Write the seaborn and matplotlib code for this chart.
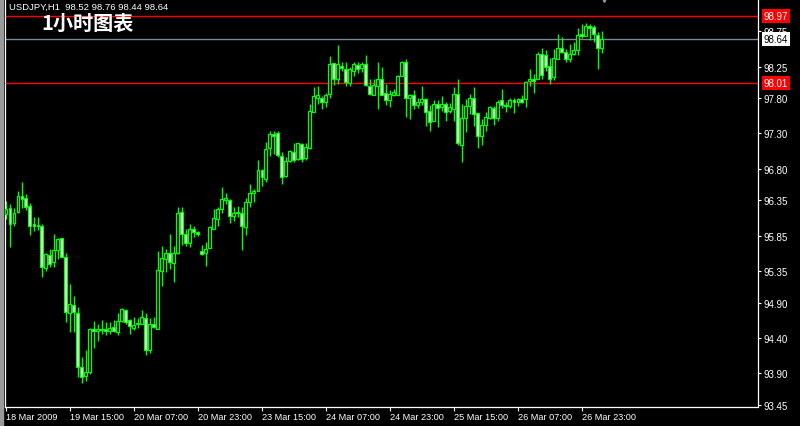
import numpy as np
import pandas as pd
import matplotlib
matplotlib.use("Agg")
import matplotlib.pyplot as plt
from matplotlib.patches import Rectangle
import seaborn as sns

# ---------------- data ----------------
header_text = "USDJPY,H1  98.52 98.76 98.44 98.64"
title_text = "1小时图表"

opens = [96.15, 96.24, 96.03, 96.18, 96.41, 96.39, 96.27, 96.01, 96.00, 95.99,
         95.39, 95.57, 95.47, 95.65, 95.81, 95.54, 94.75, 94.87, 94.75, 93.98,
         93.85, 93.91, 94.53, 94.50, 94.51, 94.53, 94.50, 94.55, 94.48, 94.64,
         94.79, 94.65, 94.54, 94.59, 94.59, 94.68, 94.22, 94.60, 94.53, 95.35,
         95.52, 95.61, 95.46, 95.60, 96.18, 95.87, 95.74, 95.95, 95.90, 95.63,
         95.61, 95.68, 95.95, 96.08, 96.23, 96.36, 96.36, 96.13, 96.17, 96.17,
         95.97, 96.33, 96.46, 96.49, 96.78, 96.66, 97.09, 97.29, 97.31, 96.98,
         96.69, 96.91, 97.03, 96.94, 97.15, 96.95, 97.09, 97.61, 97.81, 97.80,
         97.75, 97.86, 98.30, 98.08, 98.26, 98.22, 98.02, 98.19, 98.27, 98.23,
         98.29, 97.98, 97.85, 97.98, 98.08, 97.87, 97.78, 97.85, 97.84, 98.12,
         98.32, 97.81, 97.85, 97.70, 97.74, 97.79, 97.62, 97.47, 97.72, 97.67,
         97.72, 97.62, 97.65, 97.86, 97.14, 97.52, 97.69, 97.81, 97.59, 97.27,
         97.42, 97.52, 97.66, 97.52, 97.77, 97.70, 97.69, 97.78, 97.75, 97.79,
         97.79, 98.04, 98.08, 98.08, 98.43, 98.41, 98.26, 98.10, 98.36, 98.52,
         98.46, 98.35, 98.43, 98.49, 98.71, 98.69, 98.82, 98.81, 98.70, 98.52]
highs = [96.34, 96.30, 96.24, 96.49, 96.61, 96.44, 96.31, 96.11, 96.11, 96.01,
         95.61, 95.66, 95.87, 95.82, 95.82, 95.61, 95.16, 94.99, 94.83, 94.13,
         94.23, 94.54, 94.64, 94.60, 94.65, 94.62, 94.63, 94.65, 94.75, 94.82,
         94.81, 94.67, 94.69, 94.68, 94.79, 94.75, 94.68, 94.69, 95.63, 95.70,
         95.66, 95.87, 95.70, 96.25, 96.25, 95.94, 96.02, 95.98, 95.91, 95.72,
         95.76, 95.98, 96.23, 96.25, 96.54, 96.46, 96.37, 96.25, 96.27, 96.25,
         96.38, 96.58, 96.51, 96.93, 96.80, 97.18, 97.33, 97.33, 97.33, 97.03,
         96.96, 97.06, 97.17, 97.17, 97.17, 97.17, 97.72, 97.96, 97.98, 97.83,
         97.88, 98.40, 98.30, 98.56, 98.31, 98.32, 98.24, 98.31, 98.31, 98.31,
         98.41, 98.08, 98.08, 98.31, 98.25, 98.00, 97.91, 97.93, 98.13, 98.33,
         98.35, 97.86, 97.91, 97.80, 97.97, 97.80, 97.70, 97.77, 97.78, 97.83,
         97.75, 97.73, 97.96, 98.08, 97.72, 97.79, 97.86, 97.96, 97.59, 97.51,
         97.60, 97.69, 97.69, 97.77, 97.93, 97.75, 97.81, 97.81, 97.81, 97.85,
         98.04, 98.22, 98.14, 98.45, 98.52, 98.48, 98.37, 98.50, 98.71, 98.67,
         98.50, 98.57, 98.60, 98.79, 98.85, 98.87, 98.85, 98.84, 98.74, 98.76]
lows = [96.09, 95.69, 95.99, 96.17, 96.24, 96.22, 95.86, 95.92, 95.93, 95.26,
        95.35, 95.41, 95.41, 95.52, 95.54, 94.62, 94.48, 94.48, 93.84, 93.76,
        93.78, 93.89, 94.26, 94.35, 94.46, 94.44, 94.45, 94.48, 94.44, 94.63,
        94.59, 94.46, 94.51, 94.54, 94.59, 94.15, 94.18, 94.54, 94.52, 95.13,
        95.33, 95.38, 95.19, 95.59, 95.71, 95.70, 95.69, 95.83, 95.85, 95.57,
        95.42, 95.67, 95.95, 95.98, 96.17, 96.30, 96.03, 96.06, 96.11, 95.64,
        95.86, 96.25, 96.33, 96.49, 96.55, 96.61, 96.98, 97.01, 96.96, 96.58,
        96.68, 96.89, 96.90, 96.93, 96.90, 96.93, 97.08, 97.60, 97.72, 97.64,
        97.67, 97.80, 97.99, 98.00, 98.18, 97.98, 97.98, 98.11, 98.16, 98.17,
        97.98, 97.84, 97.85, 97.65, 97.85, 97.70, 97.68, 97.83, 97.84, 98.11,
        97.54, 97.51, 97.64, 97.66, 97.70, 97.40, 97.34, 97.47, 97.39, 97.62,
        97.47, 97.59, 97.48, 97.13, 96.90, 97.32, 97.58, 97.41, 97.09, 97.14,
        97.33, 97.50, 97.42, 97.48, 97.66, 97.61, 97.66, 97.59, 97.69, 97.73,
        97.67, 97.98, 97.88, 98.08, 98.08, 98.19, 98.00, 98.06, 98.35, 98.44,
        98.32, 98.32, 98.41, 98.41, 98.65, 98.69, 98.63, 98.60, 98.22, 98.44]
closes = [96.23, 96.02, 96.17, 96.41, 96.37, 96.25, 95.99, 95.99, 95.98, 95.40,
          95.59, 95.45, 95.64, 95.80, 95.55, 94.76, 94.88, 94.76, 93.98, 93.84,
          93.92, 94.52, 94.49, 94.52, 94.53, 94.49, 94.54, 94.49, 94.64, 94.81,
          94.63, 94.56, 94.58, 94.61, 94.69, 94.23, 94.59, 94.55, 95.36, 95.53,
          95.60, 95.48, 95.61, 96.17, 95.87, 95.75, 95.94, 95.90, 95.87, 95.59,
          95.66, 95.97, 96.10, 96.23, 96.37, 96.38, 96.13, 96.17, 96.19, 95.98,
          96.32, 96.46, 96.49, 96.78, 96.68, 97.08, 97.29, 97.27, 96.99, 96.68,
          96.91, 97.05, 96.93, 97.17, 96.94, 97.11, 97.62, 97.83, 97.85, 97.75,
          97.85, 98.29, 98.07, 98.29, 98.23, 98.03, 98.22, 98.29, 98.22, 98.29,
          97.99, 97.86, 97.99, 98.07, 97.85, 97.77, 97.86, 97.89, 98.11, 98.32,
          97.81, 97.84, 97.70, 97.75, 97.79, 97.61, 97.46, 97.72, 97.66, 97.72,
          97.60, 97.67, 97.86, 97.17, 97.52, 97.69, 97.81, 97.58, 97.27, 97.42,
          97.53, 97.67, 97.52, 97.75, 97.70, 97.69, 97.77, 97.75, 97.79, 97.75,
          98.03, 98.08, 98.05, 98.43, 98.13, 98.24, 98.08, 98.37, 98.52, 98.46,
          98.35, 98.43, 98.48, 98.70, 98.68, 98.82, 98.79, 98.71, 98.52, 98.64]

xtick_pos = [0, 16, 32, 48, 64, 80, 96, 112, 128, 144]
xtick_labels = ["18 Mar 2009", "19 Mar 15:00", "20 Mar 07:00", "20 Mar 23:00",
                "23 Mar 15:00", "24 Mar 07:00", "24 Mar 23:00", "25 Mar 15:00",
                "26 Mar 07:00", "26 Mar 23:00"]
ytick_vals = [98.75, 98.25, 97.80, 97.30, 96.80, 96.35, 95.85, 95.35,
              94.90, 94.40, 93.90, 93.45]
level_prices = [98.97, 98.01]
bid_price = 98.64

# ---------------- style ----------------
sns.set_theme(style="dark", rc={"axes.facecolor": "black",
                                "figure.facecolor": "black",
                                "axes.grid": False})
plt.rcParams["font.family"] = ["Liberation Sans", "Noto Sans CJK SC", "DejaVu Sans"]

W, H = 800, 427
fig = plt.figure(figsize=(W / 100, H / 100), dpi=100, facecolor="black")
ax = fig.add_axes([4.5 / W, 19 / H, 753 / W, 408 / H])
ax.set_facecolor("black")

df = pd.DataFrame({"open": opens, "high": highs, "low": lows, "close": closes})
df["idx"] = np.arange(len(df))
df["bottom"] = df[["open", "close"]].min(axis=1)
df["height"] = (df["close"] - df["open"]).abs().clip(lower=0.004)
df["fill"] = np.where(df["close"] >= df["open"], "black", "white")

lime = "#00ff00"
ax.vlines(df["idx"], df["low"], df["high"], color=lime, lw=1.0, zorder=2)
ax.bar(df["idx"], df["height"], bottom=df["bottom"], width=0.6,
       color=df["fill"], edgecolor=lime, linewidth=0.9, zorder=3)

for p in level_prices:
    ax.axhline(p, color="#ff0000", lw=1.0, zorder=1)
ax.axhline(bid_price, color="#778899", lw=1.0, zorder=1)

ax.set_xlim(-0.3, 187.95)
ax.set_ylim(93.417, 99.2085)

for s in ["left", "right", "bottom"]:
    ax.spines[s].set_color("white")
    ax.spines[s].set_linewidth(0.9)
    ax.spines[s].set_visible(True)
ax.spines["top"].set_visible(False)

ax.yaxis.tick_right()
ax.set_yticks(ytick_vals)
ax.set_yticklabels([f"{v:.2f}" for v in ytick_vals])
ax.tick_params(axis="y", which="both", right=True, left=False, direction="out",
               length=2.5, width=0.8, color="white", labelcolor="white",
               labelsize=7, pad=1.8)
ax.set_xticks(xtick_pos)
ax.set_xticklabels(xtick_labels)
ax.tick_params(axis="x", which="both", bottom=True, direction="out",
               length=3, width=0.8, color="white", labelcolor="white",
               labelsize=6.6, pad=0.5)
for lbl in ax.get_xticklabels():
    lbl.set_ha("left")

# price tags on the right (drawn above the axis labels, as in the terminal)
for p in level_prices:
    ax.annotate(f"{p:.2f}", xy=(1.0, p), xycoords=("axes fraction", "data"),
                xytext=(4.5, 0), textcoords="offset points", ha="left", va="center",
                fontsize=7, color="white", zorder=10,
                bbox=dict(boxstyle="square,pad=0.2", fc="#ff0000", ec="none"))
ax.annotate(f"{bid_price:.2f}", xy=(1.0, bid_price), xycoords=("axes fraction", "data"),
            xytext=(4.5, 0), textcoords="offset points", ha="left", va="center",
            fontsize=7, color="black", zorder=10,
            bbox=dict(boxstyle="square,pad=0.2", fc="white", ec="none"))

# chart-shift marker
ax.plot([149.6], [99.2085], marker="v", ms=5, color="#8c96aa", clip_on=False, zorder=5)

# texts
fig.text(9 / W, 1 - 7.5 / H, header_text, color="white", fontsize=6.8,
         ha="left", va="center")
fig.text(41 / W, 1 - 23 / H, title_text, color="white", fontsize=14.5,
         fontweight="bold", ha="left", va="center",
         family=["Noto Sans CJK SC", "DejaVu Sans"])

# window border strip
fig.patches.append(Rectangle((0, 0), 2.5 / W, 1, transform=fig.transFigure,
                             color="#9a9a9a", zorder=0))

fig.savefig("out.png", dpi=100, facecolor="black")
